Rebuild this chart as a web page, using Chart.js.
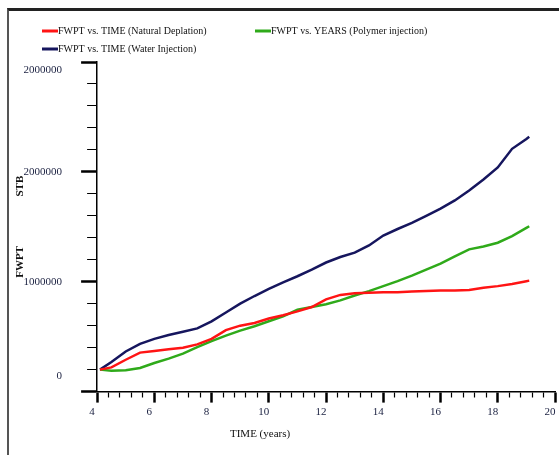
<!DOCTYPE html>
<html><head><meta charset="utf-8">
<script src="https://cdn.jsdelivr.net/npm/chart.js@4.4.1/dist/chart.umd.min.js"></script>
<style>
html,body{margin:0;padding:0;background:#fff;}
#wrap{position:relative;width:559px;height:455px;overflow:hidden;}
#frame{position:absolute;left:7px;top:8px;width:600px;height:500px;border-top:3px solid #222;border-left:2px solid #555;pointer-events:none;}
canvas{position:absolute;left:0;top:0;}
</style></head><body>
<div id="wrap"><canvas id="c" width="559" height="455"></canvas><div id="frame"></div></div>
<script>
// TIME (years)
const time = [4.1, 4.5, 5, 5.5, 6, 6.5, 7, 7.5, 8, 8.5, 9, 9.5, 10, 10.5, 11, 11.5, 12, 12.5, 13, 13.5, 14, 14.5, 15, 15.5, 16, 16.5, 17, 17.5, 18, 18.5, 19, 19.1];
// FWPT (STB)
const naturalDepletion = [200000, 220000, 290000, 355000, 370000, 385000, 400000, 430000, 480000, 560000, 600000, 625000, 665000, 695000, 730000, 770000, 840000, 880000, 895000, 900000, 905000, 905000, 910000, 915000, 920000, 920000, 925000, 945000, 960000, 980000, 1005000, 1010000];
const polymerInjection = [200000, 190000, 195000, 215000, 260000, 300000, 345000, 405000, 460000, 510000, 555000, 595000, 640000, 685000, 745000, 770000, 795000, 830000, 875000, 915000, 960000, 1005000, 1055000, 1110000, 1165000, 1230000, 1295000, 1320000, 1355000, 1415000, 1490000, 1505000];
const waterInjection = [200000, 270000, 365000, 435000, 480000, 515000, 545000, 575000, 640000, 720000, 800000, 870000, 935000, 995000, 1050000, 1110000, 1175000, 1225000, 1265000, 1330000, 1420000, 1480000, 1535000, 1600000, 1665000, 1740000, 1830000, 1930000, 2040000, 2210000, 2300000, 2320000];
const seriesLabels = ['FWPT vs. TIME (Natural Deplation)', 'FWPT vs. YEARS (Polymer injection)', 'FWPT vs. TIME (Water Injection)'];
const yMajorValues = [0, 1000000, 2000000, 3000000];
const yMajorLabels = ['0', '1000000', '2000000', '2000000'];
const xTickLabels = ['4', '6', '8', '10', '12', '14', '16', '18', '20'];

const pts = arr => arr.map((v, i) => ({x: time[i], y: v}));
const SERIF = '"Liberation Serif", "Times New Roman", serif';

const legendPlugin = {
  id: 'manualLegend',
  afterDraw(chart) {
    const ctx = chart.ctx;
    const spots = [[42, 31], [255, 31], [42, 49]];
    chart.data.datasets.forEach((ds, i) => {
      const [x, y] = spots[i];
      ctx.save();
      ctx.strokeStyle = ds.borderColor; ctx.lineWidth = 3;
      ctx.beginPath(); ctx.moveTo(x, y); ctx.lineTo(x + 16, y); ctx.stroke();
      ctx.fillStyle = '#111'; ctx.font = '10px ' + SERIF; ctx.textBaseline = 'middle';
      ctx.fillText(ds.label, x + 16, y);
      ctx.restore();
    });
  }
};

const isYMajor = v => yMajorValues.some(m => Math.abs(m - v) < 1);
const xLabelFor = v => { const s = String(Math.round(v)); return (Math.abs(v - Math.round(v)) < 1e-6 && xTickLabels.includes(s)) ? s : ''; };
const yLabelFor = v => {
  const k = yMajorValues.findIndex(m => Math.abs(m - v) < 1);
  if (k < 0) return '';
  if (k === 0) return [yMajorLabels[k], '', ''];
  if (k === yMajorValues.length - 1) return ['', yMajorLabels[k]];
  return yMajorLabels[k];
};

new Chart(document.getElementById('c'), {
  type: 'line',
  data: {
    datasets: [
      {label: seriesLabels[0], data: pts(naturalDepletion), borderColor: '#ff1414', borderWidth: 2.5, pointRadius: 0, tension: 0},
      {label: seriesLabels[1], data: pts(polymerInjection), borderColor: '#2faa1a', borderWidth: 2.5, pointRadius: 0, tension: 0},
      {label: seriesLabels[2], data: pts(waterInjection), borderColor: '#16165e', borderWidth: 2.5, pointRadius: 0, tension: 0}
    ]
  },
  options: {
    responsive: false, animation: false,
    layout: {padding: {left: 17, right: 0, top: 62, bottom: 14}},
    plugins: {legend: {display: false}, tooltip: {enabled: false}},
    scales: {
      x: {
        type: 'linear', min: 4, max: 20,
        afterFit: s => { s.paddingRight = 4; },
        ticks: {stepSize: 0.4, autoSkip: false, maxRotation: 0, callback: v => xLabelFor(v),
          font: {family: SERIF, size: 11}, color: '#1a2040', padding: 3, labelOffset: -5},
        grid: {drawOnChartArea: false, tickLength: 11, tickColor: '#000',
          tickWidth: c => xLabelFor(c.tick.value) ? 2.5 : 1.2,
          tickBorderDash: c => xLabelFor(c.tick.value) ? [] : [5, 100]},
        border: {color: '#000', width: 1.5},
        title: {display: true, text: 'TIME (years)' + ' '.repeat(48), font: {family: SERIF, size: 11}, color: '#111', padding: {top: 6, bottom: 0}}
      },
      y: {
        type: 'linear', min: 0, max: 3000000,
        ticks: {stepSize: 200000, autoSkip: false, callback: v => yLabelFor(v),
          font: {family: SERIF, size: 11, lineHeight: 1.4}, color: '#1a2040', padding: 0},
        grid: {drawOnChartArea: false, tickLength: 35, tickColor: '#000',
          tickWidth: c => isYMajor(c.tick.value) ? 2.5 : 1.2,
          tickBorderDash: c => isYMajor(c.tick.value) ? [0, 19, 16] : [0, 25, 10]},
        border: {color: '#000', width: 1.5},
        title: {display: true, text: 'FWPT' + ' '.repeat(18) + 'STB', font: {family: SERIF, size: 11, weight: 'bold', lineHeight: 0.6}, color: '#111', padding: {top: 0, bottom: 0}}
      }
    }
  },
  plugins: [legendPlugin]
});
</script>
</body></html>
